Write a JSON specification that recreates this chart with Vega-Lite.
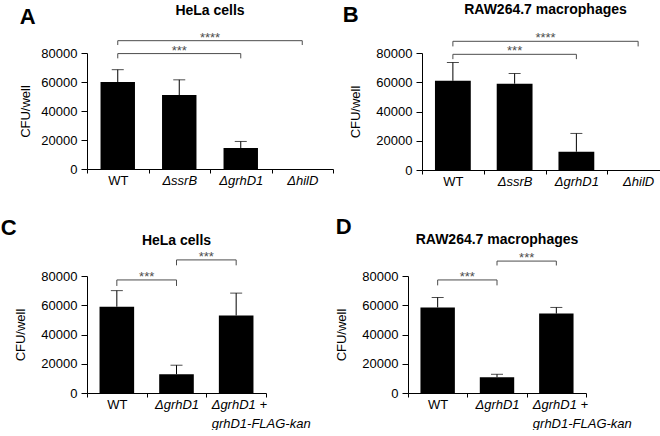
{
  "$schema": "https://vega.github.io/schema/vega-lite/v6.json",
  "background": "white",
  "padding": {"left": 0, "top": 3, "right": 0, "bottom": 0},
  "config": {
    "font": "Liberation Sans",
    "view": {"stroke": null},
    "axis": {"grid": false, "domainColor": "#000", "tickColor": "#000", "labelColor": "#000", "titleColor": "#000", "labelFontSize": 13, "titleFontSize": 13, "titleFontWeight": "normal", "labelFont": "Liberation Sans", "titleFont": "Liberation Sans"},
    "axisY": {"tickSize": 6, "labelPadding": 4, "titlePadding": 13, "labelOverlap": false},
    "axisX": {"tickSize": 4, "labelPadding": 1, "labelLineHeight": 19},
    "title": {"font": "Liberation Sans", "color": "#000"}
  },
  "datasets": {
    "bars": [
      {"panel": "A", "strain": "WT", "cfu": 60000, "hi": 68500},
      {"panel": "A", "strain": "ΔssrB", "cfu": 51000, "hi": 61500},
      {"panel": "A", "strain": "ΔgrhD1", "cfu": 14500, "hi": 19000},
      {"panel": "A", "strain": "ΔhilD", "cfu": 0, "hi": 0},
      {"panel": "B", "strain": "WT", "cfu": 61000, "hi": 73500},
      {"panel": "B", "strain": "ΔssrB", "cfu": 59000, "hi": 66000},
      {"panel": "B", "strain": "ΔgrhD1", "cfu": 12500, "hi": 25000},
      {"panel": "B", "strain": "ΔhilD", "cfu": 0, "hi": 0},
      {"panel": "C", "strain": "WT", "cfu": 59000, "hi": 70000},
      {"panel": "C", "strain": "ΔgrhD1", "cfu": 12800, "hi": 19000},
      {"panel": "C", "strain": "ΔgrhD1 + grhD1-FLAG-kan", "cfu": 53000, "hi": 68300},
      {"panel": "D", "strain": "WT", "cfu": 58500, "hi": 65300},
      {"panel": "D", "strain": "ΔgrhD1", "cfu": 10800, "hi": 12800},
      {"panel": "D", "strain": "ΔgrhD1 + grhD1-FLAG-kan", "cfu": 54300, "hi": 58500}
    ],
    "brackets": [
      {"panel": "A", "from": "WT", "to": "ΔhilD", "y": 88500, "yd": 85500, "label": "****", "mid": "ΔssrB", "pos": "edge"},
      {"panel": "A", "from": "WT", "to": "ΔgrhD1", "y": 79600, "yd": 76300, "label": "***", "mid": "ΔssrB", "pos": "center"},
      {"panel": "B", "from": "WT", "to": "ΔhilD", "y": 88000, "yd": 84500, "label": "****", "mid": "ΔssrB", "pos": "edge"},
      {"panel": "B", "from": "WT", "to": "ΔgrhD1", "y": 79100, "yd": 75800, "label": "***", "mid": "ΔssrB", "pos": "center"},
      {"panel": "C", "from": "WT", "to": "ΔgrhD1", "y": 77300, "yd": 73200, "label": "***", "mid": "WT", "pos": "edge"},
      {"panel": "C", "from": "ΔgrhD1", "to": "ΔgrhD1 + grhD1-FLAG-kan", "y": 91000, "yd": 87300, "label": "***", "mid": "ΔgrhD1", "pos": "edge"},
      {"panel": "D", "from": "WT", "to": "ΔgrhD1", "y": 77300, "yd": 73600, "label": "***", "mid": "WT", "pos": "edge"},
      {"panel": "D", "from": "ΔgrhD1", "to": "ΔgrhD1 + grhD1-FLAG-kan", "y": 90200, "yd": 87200, "label": "***", "mid": "ΔgrhD1", "pos": "edge"}
    ]
  },
  "columns": 1,
  "align": "none",
  "spacing": 28,
  "concat": [
    {
      "spacing": 8,
      "hconcat": [
        {
          "title": {"text": "A", "anchor": "start", "frame": "bounds", "fontSize": 22, "fontWeight": "bold", "dx": 0, "offset": -25},
          "vconcat": [
            {
              "width": 246, "height": 116,
              "title": {"text": "HeLa cells", "fontSize": 14, "fontWeight": "bold", "offset": 14},
              "layer": [
                {"data": {"name": "bars"}, "transform": [{"filter": "datum.panel === 'A'"}],
                 "mark": {"type": "bar", "color": "#000", "width": {"band": 0.56}},
                 "encoding": {
                   "x": {"field": "strain", "type": "nominal", "scale": {"domain": ["WT", "ΔssrB", "ΔgrhD1", "ΔhilD"], "paddingInner": 0, "paddingOuter": 0}, "title": null,
                         "axis": {"title": null, "labelAngle": 0, "tickBand": "extent",
                                  "labelFontStyle": {"condition": {"test": "datum.label === 'WT'", "value": "normal"}, "value": "italic"}}},
                   "y": {"field": "cfu", "type": "quantitative", "scale": {"domain": [0, 80000], "nice": false}, "title": "CFU/well", "axis": {"values": [0, 20000, 40000, 60000, 80000], "format": "d", "titlePadding": 8}}
                 }},
                {"data": {"name": "bars"}, "transform": [{"filter": "datum.panel === 'A' && datum.hi > datum.cfu"}],
                 "mark": {"type": "rule", "color": "#000", "strokeWidth": 1},
                 "encoding": {
                   "x": {"field": "strain", "type": "nominal", "scale": {"domain": ["WT", "ΔssrB", "ΔgrhD1", "ΔhilD"]}, "title": null},
                   "y": {"field": "cfu", "type": "quantitative", "title": "CFU/well", "axis": {"values": [0, 20000, 40000, 60000, 80000], "format": "d", "titlePadding": 8}}, "y2": {"field": "hi"}
                 }},
                {"data": {"name": "bars"}, "transform": [{"filter": "datum.panel === 'A' && datum.hi > datum.cfu"}],
                 "mark": {"type": "tick", "color": "#000", "size": 12, "thickness": 1},
                 "encoding": {
                   "x": {"field": "strain", "type": "nominal", "scale": {"domain": ["WT", "ΔssrB", "ΔgrhD1", "ΔhilD"]}, "title": null},
                   "y": {"field": "hi", "type": "quantitative", "title": "CFU/well", "axis": {"values": [0, 20000, 40000, 60000, 80000], "format": "d", "titlePadding": 8}}
                 }},
                {"data": {"name": "brackets"}, "transform": [{"filter": "datum.panel === 'A'"}],
                 "mark": {"type": "rule", "color": "#4d4d4d"},
                 "encoding": {
                   "x": {"field": "from", "type": "nominal", "scale": {"domain": ["WT", "ΔssrB", "ΔgrhD1", "ΔhilD"]}, "title": null}, "x2": {"field": "to"},
                   "y": {"field": "y", "type": "quantitative", "title": "CFU/well", "axis": {"values": [0, 20000, 40000, 60000, 80000], "format": "d", "titlePadding": 8}}
                 }},
                {"data": {"name": "brackets"}, "transform": [{"filter": "datum.panel === 'A'"}],
                 "mark": {"type": "rule", "color": "#4d4d4d"},
                 "encoding": {
                   "x": {"field": "from", "type": "nominal", "scale": {"domain": ["WT", "ΔssrB", "ΔgrhD1", "ΔhilD"]}, "title": null},
                   "y": {"field": "y", "type": "quantitative", "title": "CFU/well", "axis": {"values": [0, 20000, 40000, 60000, 80000], "format": "d", "titlePadding": 8}}, "y2": {"field": "yd"}
                 }},
                {"data": {"name": "brackets"}, "transform": [{"filter": "datum.panel === 'A'"}],
                 "mark": {"type": "rule", "color": "#4d4d4d"},
                 "encoding": {
                   "x": {"field": "to", "type": "nominal", "scale": {"domain": ["WT", "ΔssrB", "ΔgrhD1", "ΔhilD"]}, "title": null},
                   "y": {"field": "y", "type": "quantitative", "title": "CFU/well", "axis": {"values": [0, 20000, 40000, 60000, 80000], "format": "d", "titlePadding": 8}}, "y2": {"field": "yd"}
                 }},
                {"data": {"name": "brackets"}, "transform": [{"filter": "datum.panel === 'A' && datum.pos === 'center'"}],
                 "mark": {"type": "text", "fontSize": 13, "color": "#4d4d4d", "baseline": "alphabetic", "dy": 1},
                 "encoding": {
                   "x": {"field": "mid", "type": "nominal", "scale": {"domain": ["WT", "ΔssrB", "ΔgrhD1", "ΔhilD"]}, "title": null},
                   "y": {"field": "y", "type": "quantitative", "title": "CFU/well", "axis": {"values": [0, 20000, 40000, 60000, 80000], "format": "d", "titlePadding": 8}}, "text": {"field": "label"}
                 }},
                {"data": {"name": "brackets"}, "transform": [{"filter": "datum.panel === 'A' && datum.pos === 'edge'"}],
                 "mark": {"type": "text", "fontSize": 13, "color": "#4d4d4d", "baseline": "alphabetic", "dy": 1},
                 "encoding": {
                   "x": {"field": "mid", "type": "nominal", "bandPosition": 1, "scale": {"domain": ["WT", "ΔssrB", "ΔgrhD1", "ΔhilD"]}, "title": null},
                   "y": {"field": "y", "type": "quantitative", "title": "CFU/well", "axis": {"values": [0, 20000, 40000, 60000, 80000], "format": "d", "titlePadding": 8}}, "text": {"field": "label"}
                 }}
              ]
            }
          ]
        },
        {
          "title": {"text": "B", "anchor": "start", "frame": "bounds", "fontSize": 22, "fontWeight": "bold", "dx": -7, "offset": -24},
          "vconcat": [
            {
              "width": 247, "height": 117,
              "title": {"text": "RAW264.7 macrophages", "fontSize": 14, "fontWeight": "bold", "offset": 15},
              "layer": [
                {"data": {"name": "bars"}, "transform": [{"filter": "datum.panel === 'B'"}],
                 "mark": {"type": "bar", "color": "#000", "width": {"band": 0.58}},
                 "encoding": {
                   "x": {"field": "strain", "type": "nominal", "scale": {"domain": ["WT", "ΔssrB", "ΔgrhD1", "ΔhilD"], "paddingInner": 0, "paddingOuter": 0}, "title": null,
                         "axis": {"title": null, "labelAngle": 0, "tickBand": "extent",
                                  "labelFontStyle": {"condition": {"test": "datum.label === 'WT'", "value": "normal"}, "value": "italic"}}},
                   "y": {"field": "cfu", "type": "quantitative", "scale": {"domain": [0, 80000], "nice": false}, "title": "CFU/well", "axis": {"values": [0, 20000, 40000, 60000, 80000], "format": "d"}}
                 }},
                {"data": {"name": "bars"}, "transform": [{"filter": "datum.panel === 'B' && datum.hi > datum.cfu"}],
                 "mark": {"type": "rule", "color": "#000", "strokeWidth": 1},
                 "encoding": {
                   "x": {"field": "strain", "type": "nominal", "scale": {"domain": ["WT", "ΔssrB", "ΔgrhD1", "ΔhilD"]}, "title": null},
                   "y": {"field": "cfu", "type": "quantitative", "title": "CFU/well", "axis": {"values": [0, 20000, 40000, 60000, 80000], "format": "d"}}, "y2": {"field": "hi"}
                 }},
                {"data": {"name": "bars"}, "transform": [{"filter": "datum.panel === 'B' && datum.hi > datum.cfu"}],
                 "mark": {"type": "tick", "color": "#000", "size": 12, "thickness": 1},
                 "encoding": {
                   "x": {"field": "strain", "type": "nominal", "scale": {"domain": ["WT", "ΔssrB", "ΔgrhD1", "ΔhilD"]}, "title": null},
                   "y": {"field": "hi", "type": "quantitative", "title": "CFU/well", "axis": {"values": [0, 20000, 40000, 60000, 80000], "format": "d"}}
                 }},
                {"data": {"name": "brackets"}, "transform": [{"filter": "datum.panel === 'B'"}],
                 "mark": {"type": "rule", "color": "#4d4d4d"},
                 "encoding": {
                   "x": {"field": "from", "type": "nominal", "scale": {"domain": ["WT", "ΔssrB", "ΔgrhD1", "ΔhilD"]}, "title": null}, "x2": {"field": "to"},
                   "y": {"field": "y", "type": "quantitative", "title": "CFU/well", "axis": {"values": [0, 20000, 40000, 60000, 80000], "format": "d"}}
                 }},
                {"data": {"name": "brackets"}, "transform": [{"filter": "datum.panel === 'B'"}],
                 "mark": {"type": "rule", "color": "#4d4d4d"},
                 "encoding": {
                   "x": {"field": "from", "type": "nominal", "scale": {"domain": ["WT", "ΔssrB", "ΔgrhD1", "ΔhilD"]}, "title": null},
                   "y": {"field": "y", "type": "quantitative", "title": "CFU/well", "axis": {"values": [0, 20000, 40000, 60000, 80000], "format": "d"}}, "y2": {"field": "yd"}
                 }},
                {"data": {"name": "brackets"}, "transform": [{"filter": "datum.panel === 'B'"}],
                 "mark": {"type": "rule", "color": "#4d4d4d"},
                 "encoding": {
                   "x": {"field": "to", "type": "nominal", "scale": {"domain": ["WT", "ΔssrB", "ΔgrhD1", "ΔhilD"]}, "title": null},
                   "y": {"field": "y", "type": "quantitative", "title": "CFU/well", "axis": {"values": [0, 20000, 40000, 60000, 80000], "format": "d"}}, "y2": {"field": "yd"}
                 }},
                {"data": {"name": "brackets"}, "transform": [{"filter": "datum.panel === 'B' && datum.pos === 'center'"}],
                 "mark": {"type": "text", "fontSize": 13, "color": "#4d4d4d", "baseline": "alphabetic", "dy": 1},
                 "encoding": {
                   "x": {"field": "mid", "type": "nominal", "scale": {"domain": ["WT", "ΔssrB", "ΔgrhD1", "ΔhilD"]}, "title": null},
                   "y": {"field": "y", "type": "quantitative", "title": "CFU/well", "axis": {"values": [0, 20000, 40000, 60000, 80000], "format": "d"}}, "text": {"field": "label"}
                 }},
                {"data": {"name": "brackets"}, "transform": [{"filter": "datum.panel === 'B' && datum.pos === 'edge'"}],
                 "mark": {"type": "text", "fontSize": 13, "color": "#4d4d4d", "baseline": "alphabetic", "dy": 1},
                 "encoding": {
                   "x": {"field": "mid", "type": "nominal", "bandPosition": 1, "scale": {"domain": ["WT", "ΔssrB", "ΔgrhD1", "ΔhilD"]}, "title": null},
                   "y": {"field": "y", "type": "quantitative", "title": "CFU/well", "axis": {"values": [0, 20000, 40000, 60000, 80000], "format": "d"}}, "text": {"field": "label"}
                 }}
              ]
            }
          ]
        }
      ]
    },
    {
      "spacing": 24,
      "hconcat": [
        {
          "title": {"text": "C", "anchor": "start", "frame": "bounds", "fontSize": 22, "fontWeight": "bold", "dx": -14, "offset": -6},
          "vconcat": [
            {
              "width": 179, "height": 117,
              "title": {"text": "HeLa cells", "fontSize": 14, "fontWeight": "bold", "offset": 3},
              "layer": [
                {"data": {"name": "bars"}, "transform": [{"filter": "datum.panel === 'C'"}],
                 "mark": {"type": "bar", "color": "#000", "width": {"band": 0.58}},
                 "encoding": {
                   "x": {"field": "strain", "type": "nominal", "scale": {"domain": ["WT", "ΔgrhD1", "ΔgrhD1 + grhD1-FLAG-kan"], "paddingInner": 0, "paddingOuter": 0}, "title": null,
                         "axis": {"title": null, "labelAngle": 0, "tickBand": "extent",
                                  "labelFontStyle": {"condition": {"test": "datum.label === 'WT'", "value": "normal"}, "value": "italic"},
                                  "labelAlign": {"condition": {"test": "indexof(datum.label, ' + ') > 0", "value": "left"}, "value": "center"},
                                  "labelOffset": {"condition": {"test": "indexof(datum.label, ' + ') > 0", "value": -25}, "value": 0},
                                  "labelExpr": "indexof(datum.label, ' + ') > 0 ? [slice(datum.label, 0, indexof(datum.label, ' + ') + 2), slice(datum.label, indexof(datum.label, ' + ') + 3)] : datum.label"}},
                   "y": {"field": "cfu", "type": "quantitative", "scale": {"domain": [0, 80000], "nice": false}, "title": "CFU/well", "axis": {"values": [0, 20000, 40000, 60000, 80000], "format": "d"}}
                 }},
                {"data": {"name": "bars"}, "transform": [{"filter": "datum.panel === 'C' && datum.hi > datum.cfu"}],
                 "mark": {"type": "rule", "color": "#000", "strokeWidth": 1},
                 "encoding": {
                   "x": {"field": "strain", "type": "nominal", "scale": {"domain": ["WT", "ΔgrhD1", "ΔgrhD1 + grhD1-FLAG-kan"]}, "title": null},
                   "y": {"field": "cfu", "type": "quantitative", "title": "CFU/well", "axis": {"values": [0, 20000, 40000, 60000, 80000], "format": "d"}}, "y2": {"field": "hi"}
                 }},
                {"data": {"name": "bars"}, "transform": [{"filter": "datum.panel === 'C' && datum.hi > datum.cfu"}],
                 "mark": {"type": "tick", "color": "#000", "size": 12, "thickness": 1},
                 "encoding": {
                   "x": {"field": "strain", "type": "nominal", "scale": {"domain": ["WT", "ΔgrhD1", "ΔgrhD1 + grhD1-FLAG-kan"]}, "title": null},
                   "y": {"field": "hi", "type": "quantitative", "title": "CFU/well", "axis": {"values": [0, 20000, 40000, 60000, 80000], "format": "d"}}
                 }},
                {"data": {"name": "brackets"}, "transform": [{"filter": "datum.panel === 'C'"}],
                 "mark": {"type": "rule", "color": "#4d4d4d"},
                 "encoding": {
                   "x": {"field": "from", "type": "nominal", "scale": {"domain": ["WT", "ΔgrhD1", "ΔgrhD1 + grhD1-FLAG-kan"]}, "title": null}, "x2": {"field": "to"},
                   "y": {"field": "y", "type": "quantitative", "title": "CFU/well", "axis": {"values": [0, 20000, 40000, 60000, 80000], "format": "d"}}
                 }},
                {"data": {"name": "brackets"}, "transform": [{"filter": "datum.panel === 'C'"}],
                 "mark": {"type": "rule", "color": "#4d4d4d"},
                 "encoding": {
                   "x": {"field": "from", "type": "nominal", "scale": {"domain": ["WT", "ΔgrhD1", "ΔgrhD1 + grhD1-FLAG-kan"]}, "title": null},
                   "y": {"field": "y", "type": "quantitative", "title": "CFU/well", "axis": {"values": [0, 20000, 40000, 60000, 80000], "format": "d"}}, "y2": {"field": "yd"}
                 }},
                {"data": {"name": "brackets"}, "transform": [{"filter": "datum.panel === 'C'"}],
                 "mark": {"type": "rule", "color": "#4d4d4d"},
                 "encoding": {
                   "x": {"field": "to", "type": "nominal", "scale": {"domain": ["WT", "ΔgrhD1", "ΔgrhD1 + grhD1-FLAG-kan"]}, "title": null},
                   "y": {"field": "y", "type": "quantitative", "title": "CFU/well", "axis": {"values": [0, 20000, 40000, 60000, 80000], "format": "d"}}, "y2": {"field": "yd"}
                 }},
                {"data": {"name": "brackets"}, "transform": [{"filter": "datum.panel === 'C' && datum.pos === 'edge'"}],
                 "mark": {"type": "text", "fontSize": 13, "color": "#4d4d4d", "baseline": "alphabetic", "dy": 1},
                 "encoding": {
                   "x": {"field": "mid", "type": "nominal", "bandPosition": 1, "scale": {"domain": ["WT", "ΔgrhD1", "ΔgrhD1 + grhD1-FLAG-kan"]}, "title": null},
                   "y": {"field": "y", "type": "quantitative", "title": "CFU/well", "axis": {"values": [0, 20000, 40000, 60000, 80000], "format": "d"}}, "text": {"field": "label"}
                 }}
              ]
            }
          ]
        },
        {
          "title": {"text": "D", "anchor": "start", "frame": "bounds", "fontSize": 22, "fontWeight": "bold", "dx": 0, "offset": -6},
          "vconcat": [
            {
              "width": 178, "height": 117,
              "title": {"text": "RAW264.7 macrophages", "fontSize": 14, "fontWeight": "bold", "offset": 5},
              "layer": [
                {"data": {"name": "bars"}, "transform": [{"filter": "datum.panel === 'D'"}],
                 "mark": {"type": "bar", "color": "#000", "width": {"band": 0.58}},
                 "encoding": {
                   "x": {"field": "strain", "type": "nominal", "scale": {"domain": ["WT", "ΔgrhD1", "ΔgrhD1 + grhD1-FLAG-kan"], "paddingInner": 0, "paddingOuter": 0}, "title": null,
                         "axis": {"title": null, "labelAngle": 0, "tickBand": "extent",
                                  "labelFontStyle": {"condition": {"test": "datum.label === 'WT'", "value": "normal"}, "value": "italic"},
                                  "labelAlign": {"condition": {"test": "indexof(datum.label, ' + ') > 0", "value": "left"}, "value": "center"},
                                  "labelOffset": {"condition": {"test": "indexof(datum.label, ' + ') > 0", "value": -24}, "value": 0},
                                  "labelExpr": "indexof(datum.label, ' + ') > 0 ? [slice(datum.label, 0, indexof(datum.label, ' + ') + 2), slice(datum.label, indexof(datum.label, ' + ') + 3)] : datum.label"}},
                   "y": {"field": "cfu", "type": "quantitative", "scale": {"domain": [0, 80000], "nice": false}, "title": "CFU/well", "axis": {"values": [0, 20000, 40000, 60000, 80000], "format": "d"}}
                 }},
                {"data": {"name": "bars"}, "transform": [{"filter": "datum.panel === 'D' && datum.hi > datum.cfu"}],
                 "mark": {"type": "rule", "color": "#000", "strokeWidth": 1},
                 "encoding": {
                   "x": {"field": "strain", "type": "nominal", "scale": {"domain": ["WT", "ΔgrhD1", "ΔgrhD1 + grhD1-FLAG-kan"]}, "title": null},
                   "y": {"field": "cfu", "type": "quantitative", "title": "CFU/well", "axis": {"values": [0, 20000, 40000, 60000, 80000], "format": "d"}}, "y2": {"field": "hi"}
                 }},
                {"data": {"name": "bars"}, "transform": [{"filter": "datum.panel === 'D' && datum.hi > datum.cfu"}],
                 "mark": {"type": "tick", "color": "#000", "size": 12, "thickness": 1},
                 "encoding": {
                   "x": {"field": "strain", "type": "nominal", "scale": {"domain": ["WT", "ΔgrhD1", "ΔgrhD1 + grhD1-FLAG-kan"]}, "title": null},
                   "y": {"field": "hi", "type": "quantitative", "title": "CFU/well", "axis": {"values": [0, 20000, 40000, 60000, 80000], "format": "d"}}
                 }},
                {"data": {"name": "brackets"}, "transform": [{"filter": "datum.panel === 'D'"}],
                 "mark": {"type": "rule", "color": "#4d4d4d"},
                 "encoding": {
                   "x": {"field": "from", "type": "nominal", "scale": {"domain": ["WT", "ΔgrhD1", "ΔgrhD1 + grhD1-FLAG-kan"]}, "title": null}, "x2": {"field": "to"},
                   "y": {"field": "y", "type": "quantitative", "title": "CFU/well", "axis": {"values": [0, 20000, 40000, 60000, 80000], "format": "d"}}
                 }},
                {"data": {"name": "brackets"}, "transform": [{"filter": "datum.panel === 'D'"}],
                 "mark": {"type": "rule", "color": "#4d4d4d"},
                 "encoding": {
                   "x": {"field": "from", "type": "nominal", "scale": {"domain": ["WT", "ΔgrhD1", "ΔgrhD1 + grhD1-FLAG-kan"]}, "title": null},
                   "y": {"field": "y", "type": "quantitative", "title": "CFU/well", "axis": {"values": [0, 20000, 40000, 60000, 80000], "format": "d"}}, "y2": {"field": "yd"}
                 }},
                {"data": {"name": "brackets"}, "transform": [{"filter": "datum.panel === 'D'"}],
                 "mark": {"type": "rule", "color": "#4d4d4d"},
                 "encoding": {
                   "x": {"field": "to", "type": "nominal", "scale": {"domain": ["WT", "ΔgrhD1", "ΔgrhD1 + grhD1-FLAG-kan"]}, "title": null},
                   "y": {"field": "y", "type": "quantitative", "title": "CFU/well", "axis": {"values": [0, 20000, 40000, 60000, 80000], "format": "d"}}, "y2": {"field": "yd"}
                 }},
                {"data": {"name": "brackets"}, "transform": [{"filter": "datum.panel === 'D' && datum.pos === 'edge'"}],
                 "mark": {"type": "text", "fontSize": 13, "color": "#4d4d4d", "baseline": "alphabetic", "dy": 1},
                 "encoding": {
                   "x": {"field": "mid", "type": "nominal", "bandPosition": 1, "scale": {"domain": ["WT", "ΔgrhD1", "ΔgrhD1 + grhD1-FLAG-kan"]}, "title": null},
                   "y": {"field": "y", "type": "quantitative", "title": "CFU/well", "axis": {"values": [0, 20000, 40000, 60000, 80000], "format": "d"}}, "text": {"field": "label"}
                 }}
              ]
            }
          ]
        }
      ]
    }
  ]
}
